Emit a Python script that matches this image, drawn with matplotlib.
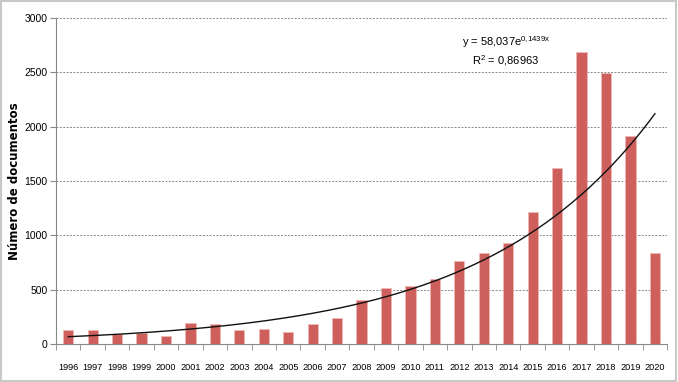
import numpy as np
import matplotlib
matplotlib.use("Agg")
import matplotlib.pyplot as plt
from matplotlib.patches import Rectangle

plt.rcParams['font.family'] = ['Liberation Sans', 'DejaVu Sans']
plt.rcParams['mathtext.default'] = 'regular'

# documentos por año
years = ['1996', '1997', '1998', '1999', '2000', '2001', '2002', '2003', '2004',
         '2005', '2006', '2007', '2008', '2009', '2010', '2011', '2012', '2013',
         '2014', '2015', '2016', '2017', '2018', '2019', '2020']
docs = [125, 130, 95, 105, 70, 190, 180, 130, 135, 110, 180, 240, 405, 515,
        535, 595, 765, 835, 930, 1215, 1620, 2690, 2495, 1915, 835]

# linea de tendencia exponencial (ecuacion mostrada)
trend_a = 58.037
trend_b = 0.1439

fig = plt.figure(figsize=(6.78, 3.82), dpi=100)
ax = fig.add_axes([0.0826, 0.0995, 0.9014, 0.8535])

x = np.arange(len(years))
ax.bar(x, docs, width=0.42, color='#cd5f5c', edgecolor='#f0b8b4', linewidth=0.6, zorder=3)

xs = np.linspace(0, len(years) - 1, 200)
ax.plot(xs, trend_a * np.exp(trend_b * (xs + 1)), color='#111111', lw=1.0, zorder=4)

ax.set_xlim(-0.5, len(years) - 0.5)
ax.set_ylim(0, 3000)
ax.set_yticks(range(0, 3001, 500))
ax.yaxis.grid(True, linestyle=(0, (2, 1.5)), color='#888888', lw=0.7, zorder=0)

ax.set_xticks(x)
ax.set_xticklabels(years, fontsize=6.6)
ax.set_xticks(np.arange(-0.5, len(years)), minor=True)
ax.tick_params(axis='x', which='major', length=0, pad=14)
ax.tick_params(axis='x', which='minor', length=4, color='#888888')
ax.tick_params(axis='y', length=4, color='#888888', labelsize=7.5, pad=2)

for s in ['top', 'right']:
    ax.spines[s].set_visible(False)
for s in ['left', 'bottom']:
    ax.spines[s].set_color('#888888')

ax.set_ylabel('Número de documentos', fontsize=8.5, fontweight='bold',
              family='DejaVu Sans')
ax.yaxis.set_label_coords(-0.058, 0.5)

ax.text(17.9, 2740, 'y = 58,037e$^{0{,}1439x}$', ha='center', fontsize=8)
ax.text(17.9, 2575, 'R$^2$ = 0,86963', ha='center', fontsize=8)

fig.patches.append(Rectangle((0.002, 0.003), 0.995, 0.994, transform=fig.transFigure,
                             fill=False, edgecolor='#c8c8c8', lw=1.5))

fig.savefig('out.png', dpi=100)
